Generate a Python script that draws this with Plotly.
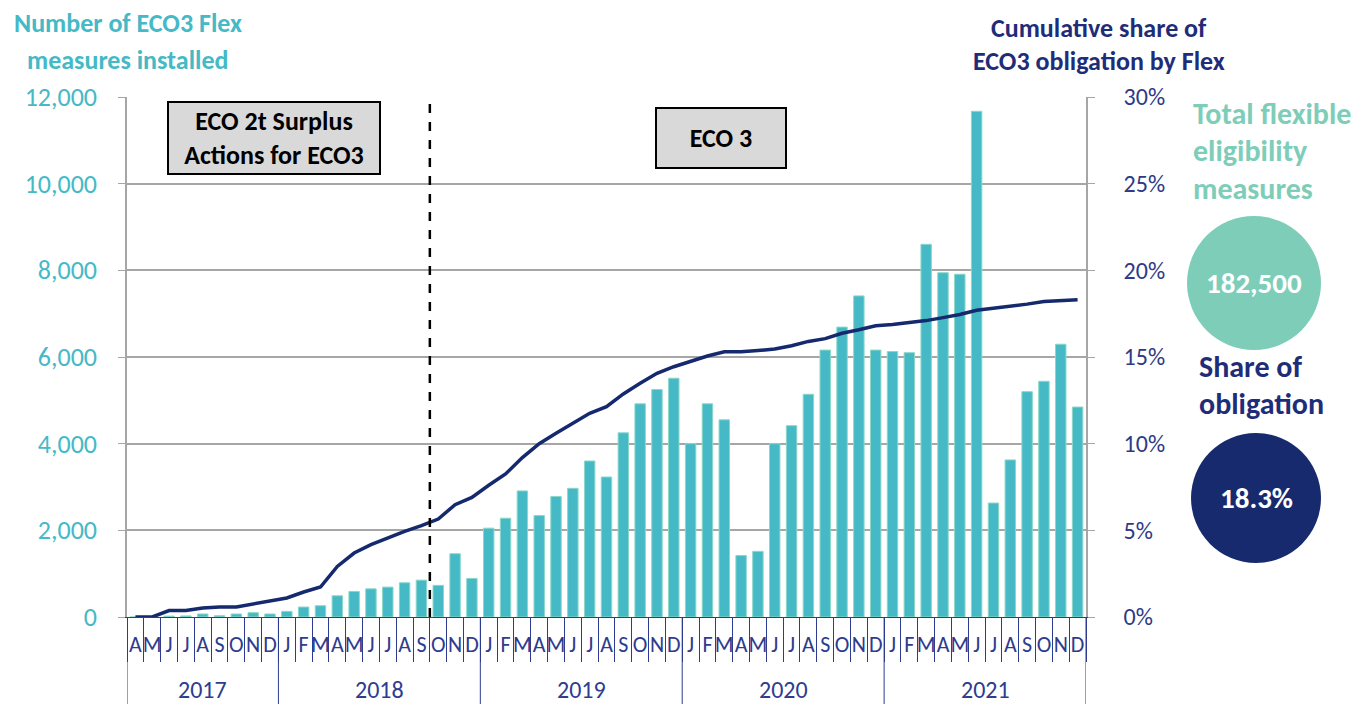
import plotly.graph_objects as go

FONT = "Carlito, Lato, sans-serif"
TEAL = "#45B9C6"
NAVY = "#14296E"
AXIS_NAVY = "#2E3C8F"
MINT = "#7ECDB9"
GRID = "#A6A6A6"

# monthly data, Apr 2017 - Dec 2021
years = ["2017", "2018", "2019", "2020", "2021"]
months_2017 = ["A", "M", "J", "J", "A", "S", "O", "N", "D"]
months_full = ["J", "F", "M", "A", "M", "J", "J", "A", "S", "O", "N", "D"]

measures_2017 = [0, 0, 20, 25, 70, 30, 70, 100, 70]
measures_2018 = [130, 230, 260, 490, 590, 650, 690, 790, 850, 730, 1460, 890]
measures_2019 = [2050, 2280, 2910, 2340, 2780, 2970, 3600, 3230, 4250, 4920, 5250, 5510]
measures_2020 = [4000, 4920, 4550, 1420, 1515, 4000, 4415, 5140, 6160, 6690, 7410, 6160]
measures_2021 = [6125, 6100, 8600, 7945, 7910, 11670, 2630, 3625, 5200, 5440, 6295, 4845]

share_2017 = [0.0, 0.0, 0.37, 0.37, 0.52, 0.58, 0.58, 0.77, 0.94]
share_2018 = [1.1, 1.44, 1.73, 2.92, 3.69, 4.17, 4.56, 4.94, 5.27, 5.65, 6.48, 6.9]
share_2019 = [7.6, 8.25, 9.2, 10.0, 10.6, 11.17, 11.75, 12.13, 12.87, 13.48, 14.06, 14.44]
share_2020 = [14.77, 15.06, 15.3, 15.3, 15.37, 15.46, 15.65, 15.9, 16.06, 16.37, 16.57, 16.8]
share_2021 = [16.87, 16.97, 17.1, 17.27, 17.45, 17.7, 17.8, 17.9, 18.05, 18.2, 18.27, 18.3]

total_flex = "182,500"
share_obligation = "18.3%"

month_groups = [months_2017] + [months_full] * 4
measures = measures_2017 + measures_2018 + measures_2019 + measures_2020 + measures_2021
share = [v / 100 for v in share_2017 + share_2018 + share_2019 + share_2020 + share_2021]
month_labels = [m for g in month_groups for m in g]
idx = list(range(len(measures)))

# page body has an 8px margin, so the figure is shifted by that much
OFF = 8
W, H = 1359 - OFF, 704 - OFF
L, R, T, B = 127, 1086, 97, 617  # plot area in screen pixels


def px(v):
    return (v - L) / (R - L)


def py(v):
    return (B - v) / (B - T)


fig = go.Figure()
fig.add_trace(go.Bar(
    x=idx, y=measures, name="Measures",
    marker=dict(color=TEAL, line=dict(color="#8AD8C8", width=1)),
))
fig.add_trace(go.Scatter(
    x=idx, y=share, name="Cumulative share", yaxis="y2", mode="lines",
    line=dict(color=NAVY, width=3.5),
))

# year labels and year dividers below the axis
start = 0
fig.add_shape(type="line", xref="x", yref="paper", x0=-0.5, x1=-0.5, y0=py(704), y1=0,
              line=dict(color=AXIS_NAVY, width=1))
for yr, g in zip(years, month_groups):
    end = start + len(g)
    fig.add_annotation(text=yr, xref="x", yref="paper", x=(start + end - 1) / 2, y=py(705),
                       yanchor="bottom", borderpad=0,
                       showarrow=False, font=dict(family=FONT, size=24, color=AXIS_NAVY))
    fig.add_shape(type="line", xref="x", yref="paper", x0=end - 0.5, x1=end - 0.5, y0=py(704), y1=0,
                  line=dict(color=AXIS_NAVY, width=1))
    start = end

n_2017 = len(months_2017)
eco3_start = n_2017 + 8 + 0.5  # boundary between Sep and Oct 2018
fig.add_shape(type="line", xref="x", yref="paper", x0=eco3_start, x1=eco3_start, y0=0, y1=1,
              line=dict(color="black", width=2.5, dash="dash"))

boxes = [
    ("<b>ECO 2t Surplus<br>Actions for ECO3</b>", 273.5, 138, 206, 66),
    ("<b>ECO 3</b>", 721, 138, 124, 54),
]
for text, cx, cy, w, h in boxes:
    fig.add_annotation(text=text, xref="paper", yref="paper", x=px(cx), y=py(cy),
                       xanchor="center", yanchor="middle",
                       showarrow=False, width=w, height=h, bgcolor="#D9D9D9",
                       bordercolor="black", borderwidth=2, borderpad=2,
                       font=dict(family=FONT, size=26, color="black"))

# axis titles
for text, cx, cy, col in [
    ("Number of ECO3 Flex", 128, 23, TEAL),
    ("measures installed", 128, 60, TEAL),
    ("Cumulative share of", 1099, 28, "#1F2D78"),
    ("ECO3 obligation by Flex", 1099, 61, "#1F2D78"),
]:
    fig.add_annotation(text="<b>" + text + "</b>", xref="paper", yref="paper", x=px(cx), y=py(cy),
                       xanchor="center", yanchor="middle",
                       showarrow=False, font=dict(family=FONT, size=26, color=col))

# side panel
for text, lx, cy, col in [
    ("Total flexible", 1191, 113, MINT),
    ("eligibility", 1191, 151, MINT),
    ("measures", 1191, 188, MINT),
    ("Share of", 1197, 367, "#1F2D78"),
    ("obligation", 1197, 403, "#1F2D78"),
]:
    fig.add_annotation(text="<b>" + text + "</b>", xref="paper", yref="paper", x=px(lx), y=py(cy),
                       xanchor="left", yanchor="middle",
                       showarrow=False, font=dict(family=FONT, size=30, color=col))

for cx, cy, r, col, label in [(1254, 283, 67, MINT, total_flex), (1256, 498, 65, "#172A6E", share_obligation)]:
    fig.add_shape(type="circle", xref="paper", yref="paper",
                  x0=px(cx - r), x1=px(cx + r), y0=py(cy + r), y1=py(cy - r),
                  fillcolor=col, line=dict(width=0))
    fig.add_annotation(text="<b>" + label + "</b>", xref="paper", yref="paper", x=px(cx), y=py(cy),
                       xanchor="center", yanchor="middle",
                       showarrow=False, font=dict(family=FONT, size=29, color="white"))

fig.update_layout(
    width=W, height=H,
    margin=dict(l=L - OFF, r=1359 - R, t=T - OFF, b=704 - B),
    plot_bgcolor="white", paper_bgcolor="white",
    showlegend=False, bargap=0.38,
    font=dict(family=FONT),
    xaxis=dict(
        range=[-0.5, len(idx) - 0.5], tickmode="array", tickvals=idx, ticktext=month_labels,
        tickangle=0, automargin=False,
        tickfont=dict(family=FONT, size=22, color=AXIS_NAVY),
        ticks="", ticklabelstandoff=8,
        minor=dict(tickmode="array", tickvals=[i - 0.5 for i in range(len(idx) + 1)],
                   ticks="outside", ticklen=44, tickcolor=AXIS_NAVY, tickwidth=1),
        showline=True, linecolor=AXIS_NAVY, linewidth=1,
        showgrid=False, zeroline=False,
    ),
    yaxis=dict(
        range=[0, 12000], tickvals=[0, 2000, 4000, 6000, 8000, 10000, 12000],
        tickformat=",", tickfont=dict(family=FONT, size=26, color=TEAL),
        showgrid=True, gridcolor=GRID, gridwidth=1.5, automargin=False,
        showline=True, linecolor=GRID, linewidth=1.5,
        ticks="outside", ticklen=7, tickcolor=GRID, ticklabelstandoff=16,
        zeroline=False,
    ),
    yaxis2=dict(
        range=[0, 0.30], tickvals=[0, 0.05, 0.10, 0.15, 0.20, 0.25, 0.30],
        tickformat=".0%", overlaying="y", side="right", automargin=False,
        tickfont=dict(family=FONT, size=24, color="#2E3A87"),
        showgrid=False, showline=True, linecolor=GRID, linewidth=1.5,
        ticks="outside", ticklen=7, tickcolor=GRID, ticklabelstandoff=24,
        zeroline=False,
    ),
)

fig.write_html("out.html")
